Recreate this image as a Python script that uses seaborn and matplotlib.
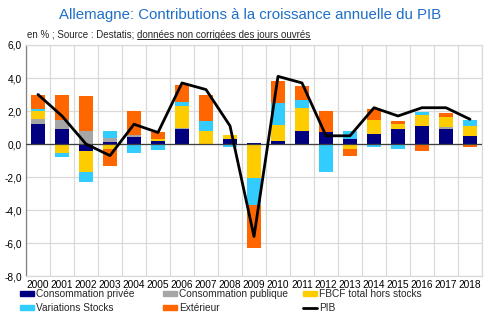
import numpy as np
import pandas as pd
import matplotlib
matplotlib.use("Agg")
import matplotlib.pyplot as plt
from matplotlib.patches import Patch
from matplotlib.lines import Line2D
import seaborn as sns

years = [str(y) for y in range(2000, 2019)]
conso_privee = [1.2, 0.9, -0.4, 0.1, 0.4, 0.2, 0.9, 0.0, 0.3, 0.07, 0.2, 0.8, 0.7, 0.3, 0.6, 0.9, 1.07, 0.9, 0.47]
conso_publique = [0.3, 0.55, 0.8, 0.27, 0.17, 0.0, 0.05, 0.0, 0.0, 0.0, 0.0, 0.0, 0.0, 0.0, 0.0, 0.0, 0.0, 0.13, 0.0]
fbcf = [0.5, -0.55, -1.3, -0.3, 0.0, 0.1, 1.37, 0.8, 0.27, -2.07, 0.98, 1.4, 0.0, -0.3, 0.84, 0.3, 0.7, 0.6, 0.6]
stocks = [0.15, -0.22, -0.58, 0.43, -0.55, -0.37, 0.23, 0.62, -0.2, -1.65, 1.32, 0.44, -1.7, 0.5, -0.2, -0.3, 0.2, 0.0, 0.4]
exterieur = [0.85, 1.5, 2.1, -1.0, 1.43, 0.4, 1.0, 1.58, 0.0, -2.58, 1.3, 0.86, 1.3, -0.4, 0.68, 0.2, -0.43, 0.28, -0.15]
pib = [3.0, 1.7, 0.0, -0.7, 1.2, 0.7, 3.7, 3.3, 1.1, -5.6, 4.1, 3.7, 0.5, 0.5, 2.2, 1.7, 2.2, 2.2, 1.5]

series_names = ["Consommation privée", "Consommation publique", "FBCF total hors stocks",
                "Variations Stocks", "Extérieur"]
series_values = [conso_privee, conso_publique, fbcf, stocks, exterieur]
series_colors = ["#000080", "#A6A6A6", "#FFCC00", "#33CCFF", "#FF6600"]

sns.set_style("white")
plt.rcParams["font.family"] = ["Liberation Sans", "DejaVu Sans"]

fig = plt.figure(figsize=(5.0, 3.26), dpi=100)
ax = fig.add_axes([0.052, 0.153, 0.912, 0.709])

pos_bottom = np.zeros(len(years))
neg_bottom = np.zeros(len(years))
for name, vals, col in zip(series_names, series_values, series_colors):
    v = np.array(vals, dtype=float)
    pos = np.where(v > 0, v, 0.0)
    neg = np.where(v < 0, v, 0.0)
    df = pd.DataFrame({"year": years, "pos": pos, "neg": neg})
    sns.barplot(data=df, x="year", y="pos", bottom=pos_bottom, color=col,
                width=0.6, saturation=1, errorbar=None, ax=ax, linewidth=0, zorder=3)
    sns.barplot(data=df, x="year", y="neg", bottom=neg_bottom, color=col,
                width=0.6, saturation=1, errorbar=None, ax=ax, linewidth=0, zorder=3)
    pos_bottom += pos
    neg_bottom += neg

sns.lineplot(x=np.arange(len(years)), y=pib, color="black", linewidth=2, ax=ax, zorder=5)

ax.set_xlim(-0.5, len(years) - 0.5)
ax.set_ylim(-8, 6)
ax.set_yticks(np.arange(-8, 6.1, 2))
ax.set_yticklabels([f"{t:.1f}".replace(".", ",") for t in np.arange(-8, 6.1, 2)])
ax.set_xticks(np.arange(len(years)))
ax.set_xticklabels(years)
ax.set_xticks(np.arange(len(years) + 1) - 0.5, minor=True)
ax.grid(False)
ax.grid(True, axis="y", which="major", color="#D9D9D9", linewidth=0.9, zorder=0)
ax.grid(True, axis="x", which="minor", color="#D9D9D9", linewidth=0.9, zorder=0)
ax.axhline(0, color="#404040", linewidth=0.9, zorder=4)
ax.tick_params(axis="both", which="both", length=0, labelsize=7.3, colors="black", pad=3)
ax.tick_params(axis="x", pad=3)
ax.set_xlabel("")
ax.set_ylabel("")
for s in ["top", "right", "bottom"]:
    ax.spines[s].set_color("#D9D9D9")
    ax.spines[s].set_linewidth(0.9)
ax.spines["left"].set_color("#808080")
ax.spines["left"].set_linewidth(0.9)

fig.text(0.5, 0.955, "Allemagne: Contributions à la croissance annuelle du PIB",
         ha="center", va="center", fontsize=10.8, color="#1F6FC8")
ysub = 0.893
t1 = fig.text(0.054, ysub, "en % ; Source : Destatis; ", ha="left", va="center", fontsize=7.0)
fig.canvas.draw()
bb = t1.get_window_extent()
x2 = bb.x1 / fig.bbox.width
t2 = fig.text(x2, ysub, "données non corrigées des jours ouvrés", ha="left", va="center",
              fontsize=7.0)
fig.canvas.draw()
bb2 = t2.get_window_extent()
yline = (bb2.y0 + 0.5) / fig.bbox.height
fig.add_artist(Line2D([bb2.x0 / fig.bbox.width, bb2.x1 / fig.bbox.width], [yline, yline],
                      color="black", linewidth=0.6, transform=fig.transFigure))

col_handles = [
    ([Patch(color=series_colors[0]), Patch(color=series_colors[3])],
     [series_names[0], series_names[3]], 0.040),
    ([Patch(color=series_colors[1]), Patch(color=series_colors[4])],
     [series_names[1], series_names[4]], 0.326),
    ([Patch(color=series_colors[2]), Line2D([], [], color="black", linewidth=2)],
     [series_names[2], "PIB"], 0.606),
]
for hs, ls, xpos in col_handles:
    leg = fig.legend(hs, ls, ncol=1, loc="upper left", bbox_to_anchor=(xpos, 0.113),
                     frameon=False, fontsize=7.3, handlelength=1.4, handleheight=0.45,
                     handletextpad=0.15, labelspacing=0.4, borderaxespad=0, borderpad=0)

fig.savefig("out.png", dpi=100)
